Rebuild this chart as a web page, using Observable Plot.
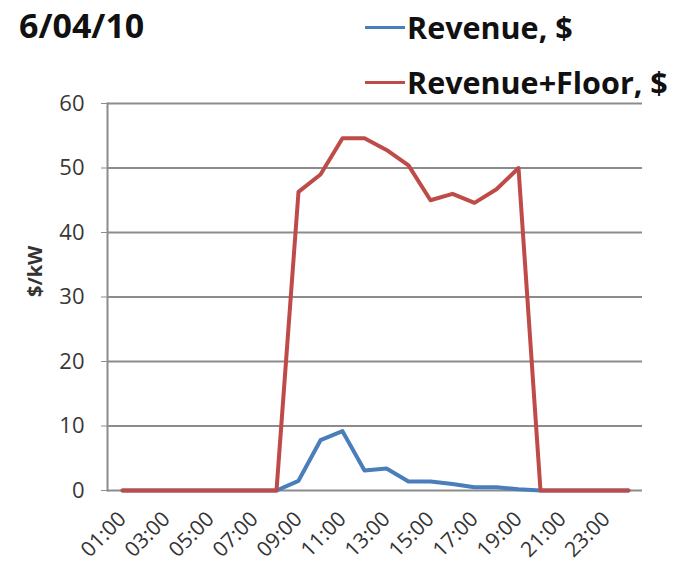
<!DOCTYPE html>
<html>
<head>
<meta charset="utf-8">
<script src="https://cdn.jsdelivr.net/npm/d3@7"></script>
<script src="https://cdn.jsdelivr.net/npm/@observablehq/plot@0.6"></script>
<style>
  html, body { margin: 0; padding: 0; background: #fff; }
  #wrap { position: relative; width: 685px; height: 571px; font-family: "Open Sans", sans-serif; }
  #wrap svg { position: absolute; left: 0; top: 0; }
  .title { position: absolute; left: 19px; top: 8px; font-size: 34px; font-weight: 700; line-height: 1; color: #111; }
  .leg { position: absolute; left: 365px; font-size: 30.5px; font-weight: 700; line-height: 1; color: #111; display: flex; align-items: center; }
  .leg .sw { width: 40px; height: 0; border-top: 3.5px solid; margin-right: 2px; }
</style>
</head>
<body>
<div id="wrap"></div>
<script>
// Hourly categories (one point per hour)
const hours = ["01:00","02:00","03:00","04:00","05:00","06:00","07:00","08:00",
  "09:00","10:00","11:00","12:00","13:00","14:00","15:00","16:00",
  "17:00","18:00","19:00","20:00","21:00","22:00","23:00","24:00"];

// Axis tick labels (every other hour)
const hourTicks = ["01:00","03:00","05:00","07:00","09:00","11:00",
  "13:00","15:00","17:00","19:00","21:00","23:00"];

// Revenue, $ per kW
const revenue = [0,0,0,0,0,0,0,0,
  1.5,7.8,9.2,3.1,3.4,1.4,1.4,1.0,
  0.5,0.5,0.2,0,0,0,0,0];

// Revenue+Floor, $ per kW
const revenueFloor = [0,0,0,0,0,0,0,0,
  46.3,49,54.6,54.6,52.8,50.4,45,46,
  44.6,46.7,50,0,0,0,0,0];

const yTicks = [0,10,20,30,40,50,60];

const seriesNames = ["Revenue, $", "Revenue+Floor, $"];
const seriesColors = ["#4a7ebb", "#be4b48"];

const rows = (vals) => hours.map((h, i) => ({hour: h, value: vals[i]}));

const chart = Plot.plot({
  width: 685,
  height: 571,
  marginLeft: 107,
  marginRight: 43,
  marginTop: 103,
  marginBottom: 81,
  style: {fontFamily: "Open Sans, sans-serif", background: "transparent"},
  x: {type: "point", domain: hours, padding: 0.5, label: null},
  y: {domain: [0, 60], ticks: yTicks, label: null},
  marks: [
    Plot.gridY(yTicks, {stroke: "#8c8c8c", strokeOpacity: 1, strokeWidth: 2}),
    Plot.frame({anchor: "left", stroke: "#8c8c8c", strokeWidth: 2}),
    Plot.axisY(yTicks, {tickSize: 6, tickPadding: 17, fontSize: 22, fill: "#383838", stroke: "#8c8c8c"}),
    Plot.axisX(hourTicks, {tickSize: 0, tickPadding: 25, tickRotate: -45, fontSize: 21, fill: "#333", label: null}),
    Plot.text(["$/kW"], {frameAnchor: "left", rotate: -90, dx: -72, fontSize: 20, fontWeight: "bold", fill: "#333"}),
    Plot.lineY(rows(revenue), {x: "hour", y: "value", stroke: seriesColors[0], strokeWidth: 4}),
    Plot.lineY(rows(revenueFloor), {x: "hour", y: "value", stroke: seriesColors[1], strokeWidth: 4})
  ]
});

const wrap = document.getElementById("wrap");
wrap.appendChild(chart);

const title = document.createElement("div");
title.className = "title";
title.textContent = "6/04/10";
wrap.appendChild(title);

const legTops = [12, 67];
seriesNames.forEach((name, i) => {
  const d = document.createElement("div");
  d.className = "leg";
  d.style.top = legTops[i] + "px";
  const sw = document.createElement("span");
  sw.className = "sw";
  sw.style.borderTopColor = seriesColors[i];
  const t = document.createElement("span");
  t.textContent = name;
  d.appendChild(sw);
  d.appendChild(t);
  wrap.appendChild(d);
});
</script>
</body>
</html>
